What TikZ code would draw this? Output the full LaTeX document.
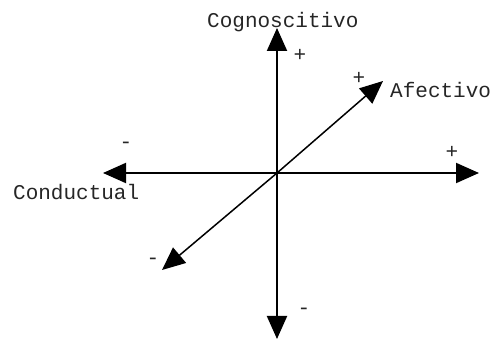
\documentclass[tikz,border=0pt]{standalone}
\usepackage{fontspec}
\setmonofont{Liberation Mono}
\usetikzlibrary{arrows.meta}
\tikzset{
  axis/.style={line width=2pt, -{Triangle[length=23pt,width=20pt]}},
  diag/.style={line width=1.5pt, -{Triangle[length=23pt,width=20pt]}},
  lbl/.style={font=\ttfamily\fontsize{21}{24}\selectfont, inner sep=0pt, text=black!85},
  sgn/.style={font=\ttfamily\fontsize{21}{24}\selectfont, inner sep=0pt, text=black!85}
}
\begin{document}
\begin{tikzpicture}[x=1pt,y=-1pt]
\useasboundingbox (0,0) rectangle (496,339);
\coordinate (o) at (277,173);
\coordinate (top) at (277,28);
\coordinate (bot) at (277,339);
\coordinate (left) at (103,173);
\coordinate (right) at (479,173);
\coordinate (ur) at (383,81);
\coordinate (ll) at (162,270);
\draw[axis] (o) -- (top);
\draw[axis] (o) -- (bot);
\draw[axis] (o) -- (left);
\draw[axis] (o) -- (right);
\draw[diag] (o) -- (ur);
\draw[diag] (o) -- (ll);
\node[lbl, anchor=base west] (cog) at (207,28) {Cognoscitivo};
\node[lbl, anchor=base west] (afe) at (390,98) {Afectivo};
\node[lbl, anchor=base west] (con) at (13,200) {Conductual};
\node[sgn] (p1) at (300,55) {+};
\node[sgn] (p2) at (359,78) {+};
\node[sgn] (p3) at (452,152) {+};
\node[sgn] (m1) at (126,145) {-};
\node[sgn] (m2) at (153,261) {-};
\node[sgn] (m3) at (304,311) {-};
\end{tikzpicture}
\end{document}
